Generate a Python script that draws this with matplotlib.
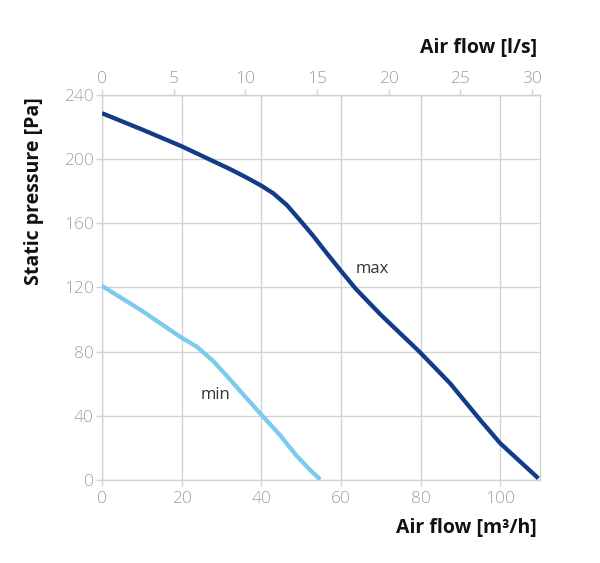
import matplotlib
matplotlib.use("Agg")
import matplotlib.pyplot as plt

# Data (airflow m3/h, static pressure Pa)
max_x = [0, 10, 20, 32.2, 36.3, 40.1, 43, 46.4, 49.7, 53.1, 56.4, 59.8, 63.6,
         70, 79.7, 87.4, 95, 100, 105, 109.6]
max_y = [228.6, 218.5, 208, 193.7, 188.5, 183.3, 178.7, 171.4, 162, 152, 141.5, 131, 119.5,
         103, 80, 60.3, 37.4, 22.9, 11.5, 1]
min_x = [0, 10, 19.6, 23.8, 28, 32.2, 36.3, 40.1, 44.7, 48.9, 52.7, 54.8]
min_y = [121, 105.5, 89.3, 83.1, 74, 62.5, 51, 40.5, 28, 15, 5.2, 0.4]

x_ticks = [0, 20, 40, 60, 80, 100]
y_ticks = [0, 40, 80, 120, 160, 200, 240]
top_ticks = [0, 5, 10, 15, 20, 25, 30]

font = ['Open Sans', 'DejaVu Sans']
plt.rcParams['font.family'] = font

grid_c = '#d2d2d2'
tick_c = '#a0a0a0'
max_c = '#123b8a'
min_c = '#7ccbee'

fig = plt.figure(figsize=(6, 5.63), dpi=100)
ax = fig.add_axes([0.17, 0.1474, 0.73, 0.684])

ax.plot(max_x, max_y, color=max_c, lw=3.1, solid_capstyle='butt',
        solid_joinstyle='round', zorder=3)
ax.plot(min_x, min_y, color=min_c, lw=3.1, solid_capstyle='butt',
        solid_joinstyle='round', zorder=3)

ax.set_xlim(0, 110)
ax.set_ylim(0, 240)
ax.set_xticks(x_ticks)
ax.set_yticks(y_ticks)
ax.grid(True, color=grid_c, lw=1)
ax.set_axisbelow(True)
for s in ax.spines.values():
    s.set_color(grid_c)
    s.set_linewidth(1)
ax.tick_params(axis='both', colors=grid_c, labelcolor=tick_c, labelsize=12.5, length=4, width=1)
ax.tick_params(axis='x', pad=4)
ax.tick_params(axis='y', pad=2)
for lab in ax.get_xticklabels() + ax.get_yticklabels():
    lab.set_fontweight('light')

sec = ax.secondary_xaxis('top', functions=(lambda v: v / 3.6, lambda v: v * 3.6))
sec.set_xticks(top_ticks)
sec.tick_params(colors=grid_c, labelcolor=tick_c, labelsize=12.5, length=4, width=1, pad=2)
sec.spines['top'].set_color(grid_c)
for lab in sec.get_xticklabels():
    lab.set_fontweight('light')

ax.text(63.8, 131.5, 'max', fontsize=12, color='#333333', va='center', ha='left')
ax.text(24.8, 53, 'min', fontsize=12, color='#333333', va='center', ha='left')

fig.text(0.895, 0.915, 'Air flow [l/s]', fontsize=14, fontweight='bold', ha='right', va='center', color='#111111')
fig.text(0.895, 0.062, 'Air flow [m³/h]', fontsize=14, fontweight='bold', ha='right', va='center', color='#111111')
fig.text(0.0575, 0.66, 'Static pressure [Pa]', fontsize=14, fontweight='bold', rotation=90, ha='center', va='center', color='#111111')

fig.savefig('out.png', dpi=100)
